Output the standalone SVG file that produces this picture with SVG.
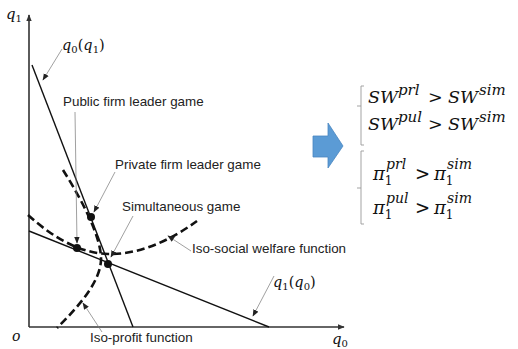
<svg xmlns="http://www.w3.org/2000/svg" width="518" height="349" viewBox="0 0 518 349">
<style>
.lbl{font-family:"Liberation Sans",Arial,sans-serif;font-size:13.4px;fill:#222}
.m{font-family:"DejaVu Serif","Liberation Serif",serif;font-style:italic;fill:#111}
.up{font-style:normal}
.axis{stroke:#333;stroke-width:1.6;fill:none}
.rl{stroke:#111;stroke-width:1.4;fill:none}
.dash{stroke:#111;stroke-width:2.6;fill:none;stroke-dasharray:8 4}
.ann{stroke:#777;stroke-width:0.7;fill:none;marker-end:url(#sa)}
.br{stroke:#999;stroke-width:0.9;fill:none}
</style>
<defs>
<marker id="sa" viewBox="0 0 10 10" refX="9" refY="5" markerWidth="7" markerHeight="7" markerUnits="userSpaceOnUse" orient="auto"><path d="M0,1 L10,5 L0,9 z" fill="#222"/></marker>
<marker id="ax" viewBox="0 0 10 10" refX="9" refY="5" markerWidth="7" markerHeight="7" markerUnits="userSpaceOnUse" orient="auto"><path d="M0,1 L10,5 L0,9 z" fill="#333"/></marker>
</defs>
<g id="axes">
<line class="axis" x1="29" y1="327" x2="29" y2="15" marker-end="url(#ax)"/>
<line class="axis" x1="29" y1="327" x2="344" y2="327" marker-end="url(#ax)"/>
<text class="m" x="6" y="19" font-size="15">q<tspan class="up" font-size="10" dy="3">1</tspan></text>
<text class="m" x="332" y="344" font-size="15">q<tspan class="up" font-size="10" dy="3">0</tspan></text>
<text class="m" x="12" y="341" font-size="14">o</text>
</g>
<g id="connectors">
<line id="q0q1" class="rl" x1="32" y1="65" x2="133" y2="327"/>
<line id="q1q0" class="rl" x1="29" y1="231" x2="269" y2="327"/>
<path id="isoprofit" class="dash" d="M63,170 C82,200 100,235 101,257 C102,280 80,305 57,328"/>
<path id="isosw" class="dash" d="M28,215 Q70,253 108,254 Q150,255 197,221"/>
<line class="ann" x1="62" y1="49" x2="43" y2="80"/>
<line class="ann" x1="75" y1="112" x2="77" y2="243"/>
<line class="ann" x1="115" y1="172" x2="94" y2="212"/>
<line class="ann" x1="133" y1="216" x2="111" y2="257"/>
<line class="ann" x1="191" y1="251" x2="168" y2="236"/>
<line class="ann" x1="274" y1="276" x2="253" y2="316"/>
<line class="ann" x1="102" y1="332" x2="83" y2="303"/>
</g>
<g id="points">
<circle cx="77" cy="248" r="4" fill="#111"/>
<circle cx="91" cy="217" r="4" fill="#111"/>
<circle cx="108" cy="264" r="4" fill="#111"/>
</g>
<g id="labels">
<text class="m" x="62" y="50" font-size="14.5">q<tspan class="up" font-size="10" dy="3">0</tspan><tspan class="up" dy="-3">(</tspan>q<tspan class="up" font-size="10" dy="3">1</tspan><tspan class="up" dy="-3">)</tspan></text>
<text class="lbl" x="63" y="106">Public firm leader game</text>
<text class="lbl" x="115" y="169">Private firm leader game</text>
<text class="lbl" x="122" y="211">Simultaneous game</text>
<text class="lbl" x="192" y="253">Iso-social welfare function</text>
<text class="m" x="273" y="287" font-size="14.5">q<tspan class="up" font-size="10" dy="3">1</tspan><tspan class="up" dy="-3">(</tspan>q<tspan class="up" font-size="10" dy="3">0</tspan><tspan class="up" dy="-3">)</tspan></text>
<text class="lbl" x="90" y="342">Iso-profit function</text>
</g>
<g id="arrow">
<path d="M313,136 L328,136 L328,123 L343,146 L328,168 L328,157 L313,157 Z" fill="#5B9BD5" stroke="#4A86C0" stroke-width="0.8"/>
</g>
<g id="sw-results">
<path class="br" d="M364,86 L361,86 L361,106 L357,106 M361,106 L361,145 L364,145"/>
<text class="m" font-size="17.5"><tspan x="368" y="103">SW</tspan><tspan x="398" y="95" font-size="15">prl</tspan><tspan class="up" x="428" y="103">&gt;</tspan><tspan x="448" y="103">SW</tspan><tspan x="479" y="95" font-size="15">sim</tspan></text>
<text class="m" font-size="17.5"><tspan x="368" y="130">SW</tspan><tspan x="398" y="122" font-size="15">pul</tspan><tspan class="up" x="428" y="130">&gt;</tspan><tspan x="448" y="130">SW</tspan><tspan x="479" y="122" font-size="15">sim</tspan></text>
</g>
<g id="profit-results">
<path class="br" d="M364,151 L361,151 L361,188 L357,188 M361,188 L361,224 L364,224"/>
<text class="m" font-size="18" x="373" y="180">π<tspan class="up" font-size="12" dy="5">1</tspan></text>
<text class="m" font-size="14" x="386" y="169">prl</text>
<text class="m up" font-size="18" x="415" y="180">&gt;</text>
<text class="m" font-size="18" x="434" y="180">π<tspan class="up" font-size="12" dy="5">1</tspan></text>
<text class="m" font-size="14" x="447" y="169">sim</text>
<text class="m" font-size="18" x="373" y="214">π<tspan class="up" font-size="12" dy="5">1</tspan></text>
<text class="m" font-size="14" x="386" y="203">pul</text>
<text class="m up" font-size="18" x="415" y="214">&gt;</text>
<text class="m" font-size="18" x="434" y="214">π<tspan class="up" font-size="12" dy="5">1</tspan></text>
<text class="m" font-size="14" x="447" y="203">sim</text>
</g>
</svg>
